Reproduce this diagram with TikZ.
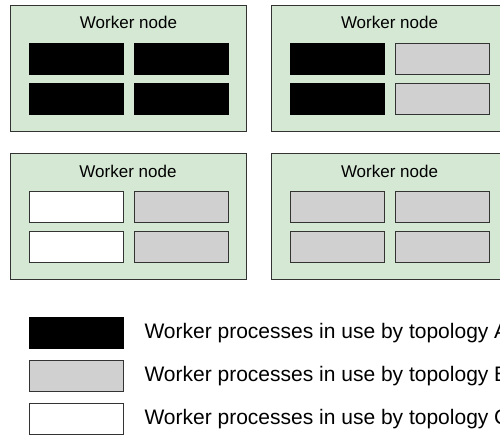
\documentclass[tikz,border=0pt]{standalone}
\usepackage{fontspec}
\setmainfont{Liberation Sans}
\usetikzlibrary{positioning,calc}
\definecolor{nodegreen}{HTML}{D5E8D4}
\definecolor{procgray}{HTML}{D0D0D0}
\definecolor{edgegray}{HTML}{333333}
\tikzset{
  worker/.style={draw=edgegray, fill=nodegreen, line width=1pt, minimum width=236pt, minimum height=126pt, inner sep=0pt},
  proc/.style={draw=edgegray, line width=1pt, minimum width=94pt, minimum height=31pt, inner sep=0pt, anchor=north west},
  topoA/.style={proc, draw=black, fill=black},
  topoB/.style={proc, fill=procgray},
  topoC/.style={proc, fill=white},
  wtitle/.style={font=\fontsize{17}{20}\selectfont},
  legtext/.style={font=\fontsize{21}{25}\selectfont, anchor=west},
}

\begin{document}
\begin{tikzpicture}[x=1pt,y=-1pt]
  \useasboundingbox (0,0) rectangle (500,434);
  % worker nodes with their process slots
  \foreach \n/\x/\y/\a/\b/\c/\d in {w1/10/4.5/topoA/topoA/topoA/topoA,
      w2/271/4.5/topoA/topoB/topoA/topoB,
      w3/9.5/153/topoC/topoB/topoC/topoB,
      w4/271/153/topoB/topoB/topoB/topoB}{
    \node[worker, anchor=north west] (\n) at (\x,\y) {};
    \node[wtitle] (\n-t) at ($(\n.north)+(0,18)$) {Worker node};
    \node[\a] (\n-p1) at ($(\n.north west)+(19,38)$) {};
    \node[\b] (\n-p2) at ($(\n.north west)+(124,38)$) {};
    \node[\c] (\n-p3) at ($(\n.north west)+(19,78)$) {};
    \node[\d] (\n-p4) at ($(\n.north west)+(124,78)$) {};
  }
  % legend
  \node[topoA] (legA) at (29,317) {};
  \node[topoB] (legB) at (29,360) {};
  \node[topoC] (legC) at (29,403) {};
  \node[legtext, right=17pt of legA] (legA-t) {Worker processes in use by topology A};
  \node[legtext, right=17pt of legB] (legB-t) {Worker processes in use by topology B};
  \node[legtext, right=17pt of legC] (legC-t) {Worker processes in use by topology C};
\end{tikzpicture}
\end{document}
